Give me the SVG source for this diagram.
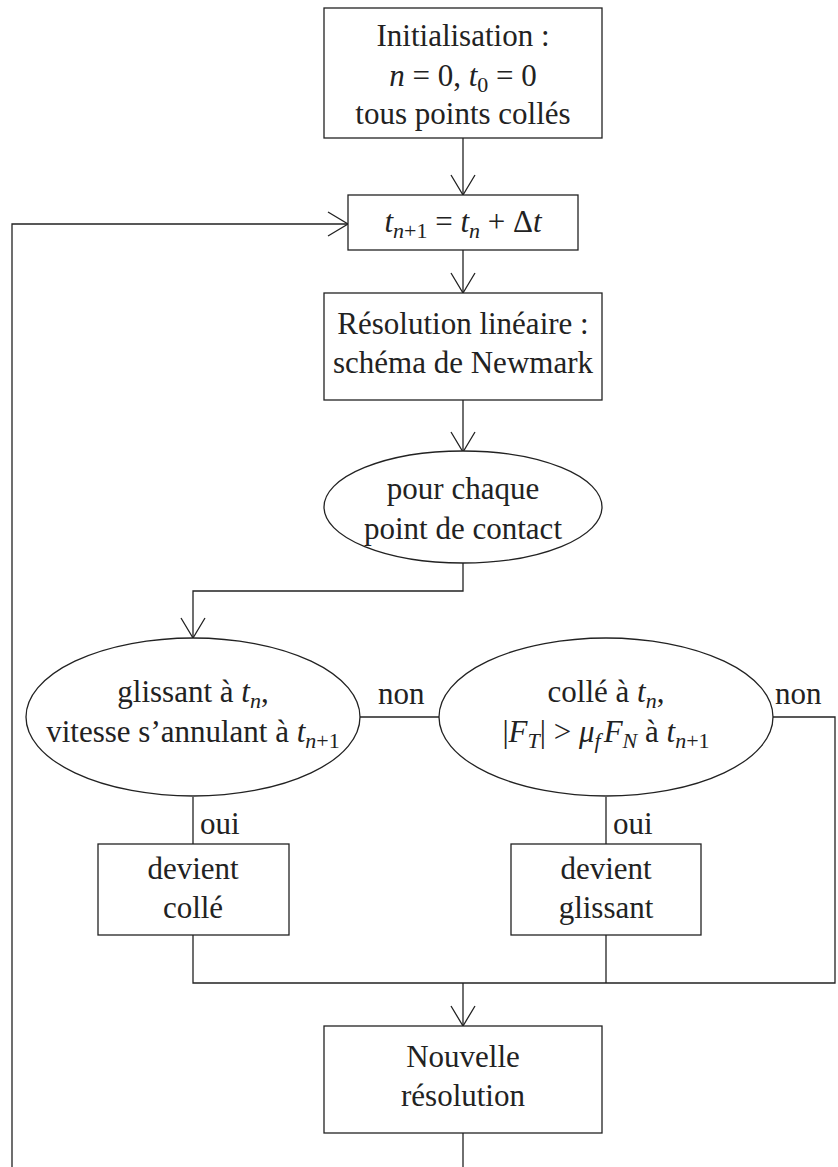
<svg xmlns="http://www.w3.org/2000/svg" width="838" height="1167" viewBox="0 0 838 1167">
<style>
text{font-family:"Liberation Serif","DejaVu Serif",serif;font-size:31px;fill:#222;text-anchor:middle}
.i{font-style:italic}
.s{font-size:22px}
.n{fill:#fff;stroke:#222;stroke-width:1.3}
.c{fill:none;stroke:#222;stroke-width:1.3}
.l{text-anchor:start}
</style>
<defs>
<marker id="a" markerUnits="userSpaceOnUse" markerWidth="24" markerHeight="28" viewBox="-22 -14 24 28" refX="0" refY="0" orient="auto">
<path d="M-20,-12 L0,0 L-20,12" fill="none" stroke="#222" stroke-width="1.3"/>
</marker>
</defs>
<rect width="838" height="1167" fill="#fff"/>
<g id="connectors">
<line class="c" x1="463" y1="138" x2="463" y2="195" marker-end="url(#a)"/>
<line class="c" x1="463" y1="250" x2="463" y2="293" marker-end="url(#a)"/>
<line class="c" x1="463" y1="400" x2="463" y2="452" marker-end="url(#a)"/>
<polyline class="c" points="463,563 463,591 193,591 193,638" marker-end="url(#a)"/>
<line class="c" x1="360" y1="717" x2="439" y2="717"/>
<polyline class="c" points="773,717 835,717 835,983 193,983 193,935"/>
<line class="c" x1="193" y1="797" x2="193" y2="844"/>
<line class="c" x1="606" y1="797" x2="606" y2="844"/>
<line class="c" x1="606" y1="935" x2="606" y2="983"/>
<line class="c" x1="463" y1="983" x2="463" y2="1026" marker-end="url(#a)"/>
<line class="c" x1="463" y1="1133" x2="463" y2="1167"/>
<polyline class="c" points="12,1167 12,224 348,224" marker-end="url(#a)"/>
<text class="l" x="378" y="704">non</text>
<text class="l" x="775" y="704">non</text>
<text class="l" x="200" y="834">oui</text>
<text class="l" x="613" y="834">oui</text>
</g>
<g id="init">
<rect class="n" x="324" y="8" width="278" height="130"/>
<text x="463" y="46">Initialisation :</text>
<text x="463" y="86"><tspan class="i">n</tspan> = 0, <tspan class="i">t</tspan><tspan class="s" dy="6">0</tspan><tspan dy="-6"> = 0</tspan></text>
<text x="463" y="124">tous points collés</text>
</g>
<g id="step">
<rect class="n" x="348" y="195" width="230" height="55"/>
<text x="463" y="232"><tspan class="i">t</tspan><tspan class="s i" dy="6">n</tspan><tspan class="s">+1</tspan><tspan dy="-6"> = </tspan><tspan class="i">t</tspan><tspan class="s i" dy="6">n</tspan><tspan dy="-6"> + Δ</tspan><tspan class="i">t</tspan></text>
</g>
<g id="newmark">
<rect class="n" x="324" y="293" width="278" height="107"/>
<text x="463" y="334">Résolution linéaire :</text>
<text x="463" y="373">schéma de Newmark</text>
</g>
<g id="contact">
<ellipse class="n" cx="463" cy="507" rx="139" ry="56"/>
<text x="463" y="499">pour chaque</text>
<text x="463" y="539">point de contact</text>
</g>
<g id="glissant">
<ellipse class="n" cx="193" cy="717" rx="167" ry="79"/>
<text x="193" y="702">glissant à <tspan class="i">t</tspan><tspan class="s i" dy="6">n</tspan><tspan dy="-6">,</tspan></text>
<text x="193" y="742">vitesse s’annulant à <tspan class="i">t</tspan><tspan class="s i" dy="6">n</tspan><tspan class="s">+1</tspan></text>
</g>
<g id="colle">
<ellipse class="n" cx="606" cy="717" rx="167" ry="79"/>
<text x="606" y="702">collé à <tspan class="i">t</tspan><tspan class="s i" dy="6">n</tspan><tspan dy="-6">,</tspan></text>
<text x="606" y="742">|<tspan class="i">F</tspan><tspan class="s i" dy="6">T</tspan><tspan dy="-6">| &gt; </tspan><tspan class="i">μ</tspan><tspan class="s i" dy="6">f</tspan><tspan class="i" dx="3" dy="-6">F</tspan><tspan class="s i" dy="6">N</tspan><tspan dy="-6"> à </tspan><tspan class="i">t</tspan><tspan class="s i" dy="6">n</tspan><tspan class="s">+1</tspan></text>
</g>
<g id="devient-colle">
<rect class="n" x="98" y="844" width="191" height="91"/>
<text x="193" y="879">devient</text>
<text x="193" y="918">collé</text>
</g>
<g id="devient-glissant">
<rect class="n" x="511" y="844" width="190" height="91"/>
<text x="606" y="879">devient</text>
<text x="606" y="918">glissant</text>
</g>
<g id="nouvelle">
<rect class="n" x="324" y="1026" width="278" height="107"/>
<text x="463" y="1067">Nouvelle</text>
<text x="463" y="1106">résolution</text>
</g>
</svg>
